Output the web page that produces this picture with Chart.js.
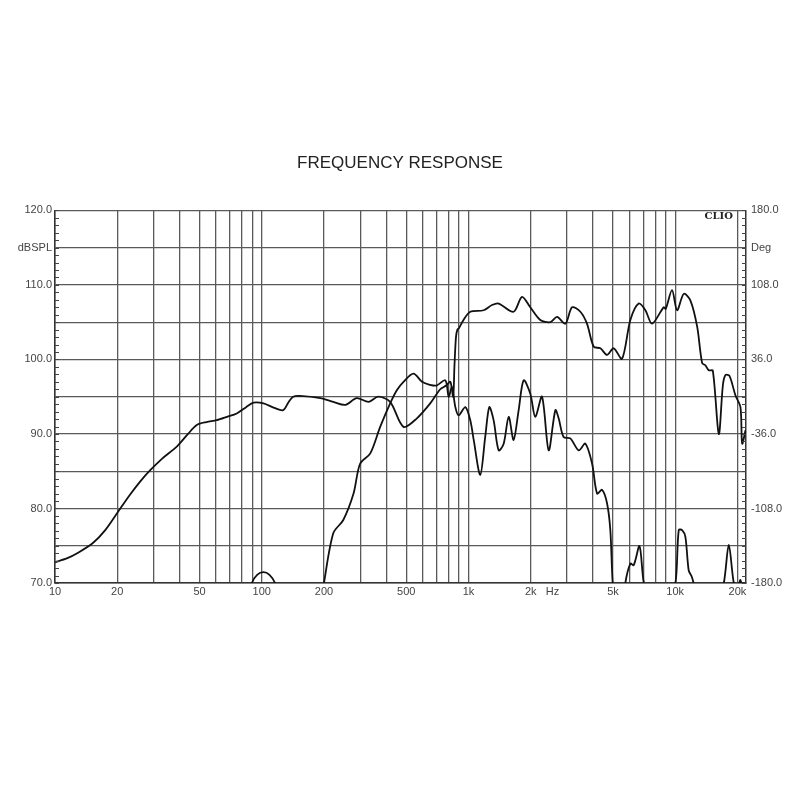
<!DOCTYPE html>
<html>
<head>
<meta charset="utf-8">
<script src="https://cdn.jsdelivr.net/npm/chart.js@4.4.0/dist/chart.umd.min.js"></script>
<style>
  html, body { margin: 0; padding: 0; background: #fff; }
  #wrap { width: 800px; height: 800px; }
</style>
</head>
<body>
<div id="wrap"><canvas id="myChart" width="800" height="800"></canvas></div>
<script>
// curve that runs from 10 Hz up to 22 kHz
const freqA = [10, 11.4, 13, 15.3, 17.5, 20, 23, 25.8, 28.8, 33, 38.8, 44, 48.5, 54, 60.6, 68, 75.7, 84, 91.2, 102, 115, 127, 135, 142, 153, 192, 222, 254, 288, 329, 366, 418,
  485, 563, 653, 730, 780, 817, 843, 855, 870, 884, 900, 946, 1021, 1184, 1300, 1400, 1653, 1815, 1991, 2226, 2490, 2682,
  2942, 3170, 3477, 3743, 4035, 4345, 4680, 5040, 5530, 6068, 6659, 7173, 7726, 8792, 9000, 9654, 10210, 11000, 11850,
  12770, 13500, 14000, 14530, 15200, 16250, 17000, 17500, 18300, 19550, 20680, 21080, 21880];
const splA = [72.8, 73.3, 74.1, 75.4, 77.1, 79.4, 81.8, 83.6, 85.1, 86.7, 88.3, 90.0, 91.2, 91.6, 91.85, 92.3, 92.75, 93.6, 94.2, 94.1, 93.5, 93.2, 94.3, 95.0, 95.1, 94.8, 94.3, 93.9, 94.8, 94.3, 95.0, 94.3,
  90.95, 92.1, 94.1, 96.0, 96.5, 97.0, 95.0, 99.0, 103.0, 104.0, 104.2, 105.3, 106.4, 106.6, 107.3, 107.5, 106.4, 108.4, 107.0, 105.3, 105.0, 105.7,
  104.8, 107.0, 106.4, 104.8, 101.7, 101.5, 100.6, 101.5, 100.1, 105.3, 107.5, 106.6, 104.8, 107.0, 106.8, 109.3, 106.6, 108.8, 107.9,
  104.4, 99.5, 99.2, 98.55, 98.5, 90.0, 96.5, 97.9, 97.8, 95.2, 93.6, 88.7, 90.5];

// band curve, 200 Hz to 5 kHz, with the small bumps that reach above the floor
const freqB = [70, 89.6, 95, 102, 109, 116, 140, 190, 200, 222, 248, 278, 299, 335, 374, 418, 451, 485, 542, 596, 650, 700, 773,
  802, 832, 864, 896, 966, 1021, 1060, 1140, 1205, 1261, 1323, 1400, 1480, 1565, 1653, 1749, 1849, 1991, 2104, 2268, 2443,
  2632, 2730, 2884, 3110, 3413, 3676, 3963, 4190, 4430, 4680, 4855, 4985, 5300, 5740, 6068, 6300, 6720, 7050, 8500, 10030,
  10400, 10800, 11200, 11620, 12000, 12270, 14500, 17180, 18160, 19200, 20000, 20680, 21500];
const splB = [60, 70.0, 71.1, 71.45, 71.1, 70.0, 64, 66, 70.0, 76.7, 78.45, 82.0, 86.0, 87.4, 90.95, 94.1, 95.9, 97.0, 98.1, 97.0, 96.6, 96.5, 97.2,
  95.0, 96.3, 93.6, 92.5, 93.6, 91.8, 89.2, 84.5, 89.6, 93.6, 91.85, 87.8, 88.7, 92.3, 89.2, 93.2, 97.2, 95.4, 92.3, 95.0, 87.8,
  93.2, 92.1, 89.6, 89.4, 87.8, 88.7, 86.0, 82.0, 82.5, 80.7, 77.1, 70.0, 62, 70.0, 72.6, 72.4, 74.95, 70.0, 60, 70.0,
  77.1, 77.1, 76.2, 71.7, 70.9, 70.0, 62, 70.0, 75.1, 70.0, 69, 70.4, 68];

// grid lines and tick labels
const gridFreqs = [10, 20, 30, 40, 50, 60, 70, 80, 90, 100, 200, 300, 400, 500, 600, 700, 800, 900,
  1000, 2000, 3000, 4000, 5000, 6000, 7000, 8000, 9000, 10000, 20000];
const hzPos = 2550;
const xLabels = { 10: '10', 20: '20', 50: '50', 100: '100', 200: '200', 500: '500', 1000: '1k', 2000: '2k', 2550: 'Hz', 5000: '5k', 10000: '10k', 20000: '20k' };
const leftLabels = { 120: '120.0', 115: 'dBSPL', 110: '110.0', 100: '100.0', 90: '90.0', 80: '80.0', 70: '70.0' };
const rightLabels = { 180: '180.0', 144: 'Deg', 108: '108.0', 36: '36.0', '-36': '-36.0', '-108': '-108.0', '-180': '-180.0' };

const gridColor = '#5a5a5a';
const labelFont = { family: 'Liberation Sans, Arial, sans-serif', size: 11 };

// small ticks along the side borders and the CLIO mark
const extras = {
  id: 'extras',
  afterDatasetsDraw(chart) {
    const c = chart.ctx, a = chart.chartArea;
    const y = chart.scales.y;
    c.save();
    c.strokeStyle = '#444';
    c.lineWidth = 1;
    for (let v = 70; v <= 120; v++) {
      const py = Math.round(y.getPixelForValue(v)) + 0.5;
      c.beginPath();
      c.moveTo(a.left, py); c.lineTo(a.left + 4, py);
      c.moveTo(a.right - 4, py); c.lineTo(a.right, py);
      c.stroke();
    }
    c.font = 'bold 10px "DejaVu Serif", serif';
    c.fillStyle = '#222';
    c.textAlign = 'right';
    c.textBaseline = 'middle';
    c.fillText('CLIO', a.right - 13, a.top + 6);
    c.restore();
  }
};

const ctx = document.getElementById('myChart').getContext('2d');
const myChart = new Chart(ctx, {
  type: 'line',
  data: {
    datasets: [
      {
        data: freqA.map((f, i) => ({ x: f, y: splA[i] })),
        borderColor: '#111', borderWidth: 1.8, pointRadius: 0, tension: 0.3, yAxisID: 'y'
      },
      {
        data: freqB.map((f, i) => ({ x: f, y: splB[i] })),
        borderColor: '#111', borderWidth: 1.8, pointRadius: 0, tension: 0.3, yAxisID: 'y'
      }
    ]
  },
  options: {
    responsive: false,
    animation: false,
    layout: { padding: { left: 0, right: 0, top: 0, bottom: 187 } },
    plugins: {
      legend: { display: false },
      tooltip: { enabled: false },
      title: {
        display: true,
        text: 'FREQUENCY RESPONSE',
        color: '#222',
        font: { family: 'Liberation Sans, Arial, sans-serif', size: 17, weight: 'normal' },
        padding: { top: 153, bottom: 37 }
      }
    },
    scales: {
      x: {
        type: 'logarithmic',
        min: 10,
        max: 22000,
        afterBuildTicks: s => { s.ticks = gridFreqs.concat([hzPos]).sort((p, q) => p - q).map(v => ({ value: v })); },
        afterFit: s => { s.height = 30; },
        ticks: {
          autoSkip: false, maxRotation: 0, color: '#444', font: labelFont, padding: 2,
          callback: v => xLabels[v] || ''
        },
        grid: {
          color: c => (c.tick && c.tick.value === hzPos) ? 'rgba(0,0,0,0)' : gridColor,
          lineWidth: 1.3, drawTicks: false
        },
        border: { color: '#333', width: 1.5 }
      },
      y: {
        position: 'left',
        min: 70,
        max: 120,
        afterBuildTicks: s => { const t = []; for (let v = 70; v <= 120; v += 5) t.push({ value: v }); s.ticks = t; },
        afterFit: s => { s.width = 55; },
        ticks: { color: '#444', font: labelFont, padding: 3, callback: v => leftLabels[v] || '' },
        grid: { color: gridColor, lineWidth: 1.3, drawTicks: false },
        border: { color: '#333', width: 1.5 }
      },
      y2: {
        position: 'right',
        min: -180,
        max: 180,
        afterBuildTicks: s => { const t = []; for (let v = -180; v <= 180; v += 36) t.push({ value: v }); s.ticks = t; },
        afterFit: s => { s.width = 54; },
        ticks: { color: '#444', font: labelFont, padding: 5, callback: v => rightLabels[v] || '' },
        grid: { drawOnChartArea: false, drawTicks: false },
        border: { color: '#333', width: 1.5 }
      }
    }
  },
  plugins: [extras]
});
</script>
</body>
</html>
